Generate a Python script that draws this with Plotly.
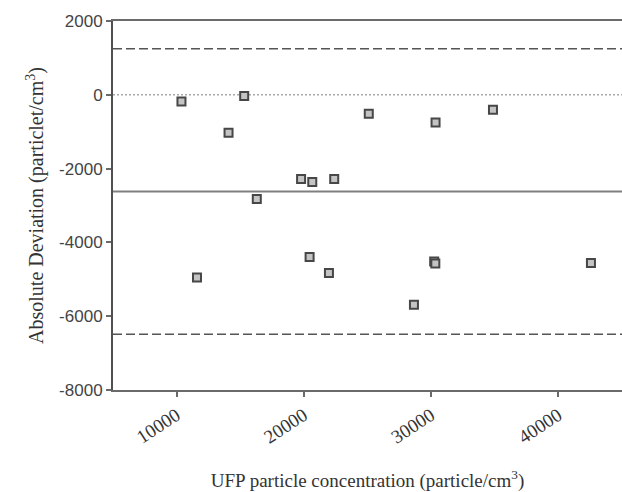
import plotly.graph_objects as go

# UFP concentration (particle/cm3) and absolute deviation (particle/cm3)
concentration = [10380, 15310, 14080, 25100, 19780, 20660, 22385, 16300,
                 11600, 20450, 21970, 28650, 30240, 30330, 30348, 34860, 42560]
deviation = [-180, -30, -1030, -515, -2285, -2366, -2285, -2827,
             -4951, -4398, -4832, -5691, -4520, -4570, -750, -406, -4561]

# Bland-Altman reference levels
zero_level = 0
mean_bias = -2620
upper_limit = 1250
lower_limit = -6490

x_range = [5000, 45000]
y_range = [-8000, 2000]
x_ticks = [10000, 20000, 30000, 40000]
y_ticks = [2000, 0, -2000, -4000, -6000, -8000]

serif = "Liberation Serif, Times New Roman, serif"
sans = "Liberation Sans, Arial, sans-serif"
axis_grey = "#6a6a6a"

fig = go.Figure()


def hline(y, color, width, dash):
    fig.add_trace(go.Scatter(
        x=x_range, y=[y, y], mode="lines",
        line=dict(color=color, width=width, dash=dash),
        hoverinfo="skip", showlegend=False,
    ))


hline(zero_level, "#a8a8a8", 1.5, "2px,2px")
hline(mean_bias, "#808080", 2, "solid")
hline(upper_limit, "#555555", 1.5, "9px,4px")
hline(lower_limit, "#555555", 1.5, "9px,4px")

fig.add_trace(go.Scatter(
    x=concentration, y=deviation, mode="markers",
    marker=dict(symbol="square", size=8, color="#c4c4c4",
                line=dict(color="#474747", width=2)),
    showlegend=False,
))

fig.update_layout(
    width=622, height=492,
    margin=dict(l=113, r=0, t=21, b=102),
    plot_bgcolor="white", paper_bgcolor="white",
    font=dict(family=serif, size=18, color="#333333"),
    xaxis=dict(
        range=x_range, tickvals=x_ticks, ticktext=[str(v) for v in x_ticks],
        tickangle=-33, ticks="outside", ticklen=5, tickwidth=1.5,
        tickcolor=axis_grey, showline=True, linecolor=axis_grey, linewidth=2,
        mirror=True, showgrid=False, zeroline=False,
        tickfont=dict(family=serif, size=19, color="#333333"),
        title=dict(text="UFP particle concentration (particle/cm<sup>3</sup>)",
                   font=dict(family=serif, size=19, color="#333333"),
                   standoff=28),
    ),
    yaxis=dict(
        range=y_range, tickvals=y_ticks, ticktext=[str(v) for v in y_ticks],
        ticks="outside", ticklen=5, tickwidth=1.5, tickcolor=axis_grey,
        showline=True, linecolor="#505050", linewidth=2,
        showgrid=False, zeroline=False,
        tickfont=dict(family=sans, size=17, color="#444444"),
        title=dict(text="Absolute Deviation (particlet/cm<sup>3</sup>)",
                   font=dict(family=serif, size=20, color="#333333"),
                   standoff=10),
    ),
)

fig.write_html("out.html")
